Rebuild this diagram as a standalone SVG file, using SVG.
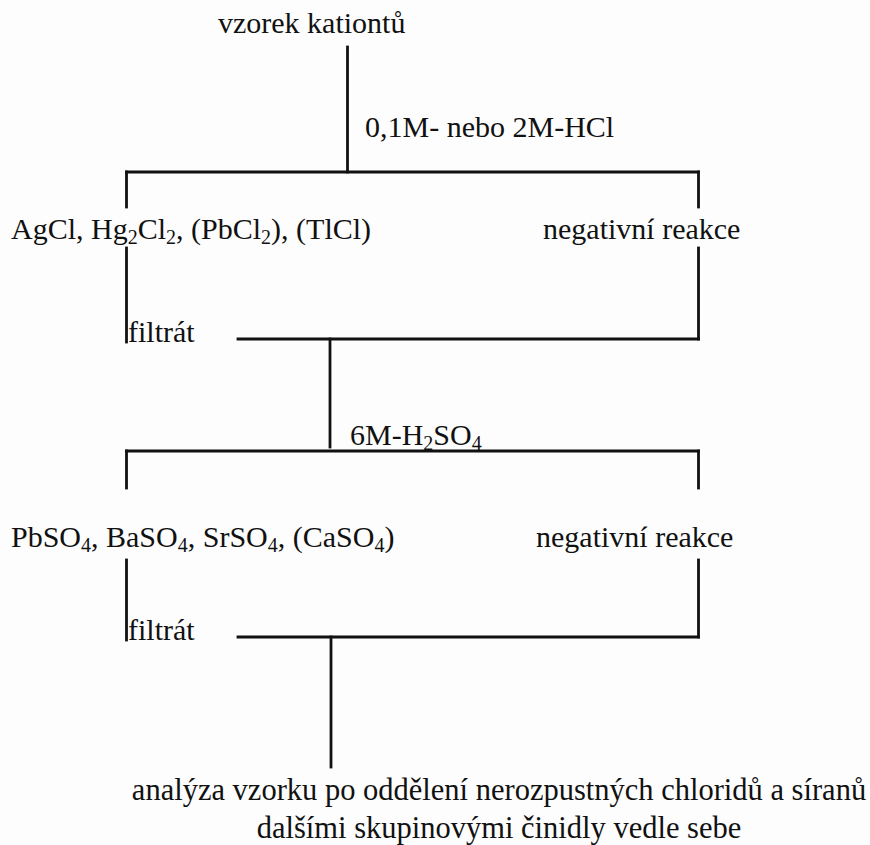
<svg xmlns="http://www.w3.org/2000/svg" width="870" height="845" viewBox="0 0 870 845">
<style>
.t{font-family:"Liberation Serif","Times New Roman",serif;font-size:30px;fill:#111}
.s{font-size:20px}
.b{font-size:30.5px}
.c line{stroke:#111;stroke-width:2.8;stroke-linecap:square}
</style>
<rect width="870" height="845" fill="#fdfdfd"/>
<g class="c" id="connectors">
<line x1="347.5" y1="47" x2="347.5" y2="172"/>
<line x1="126.5" y1="172" x2="698.5" y2="172"/>
<line x1="126.5" y1="172" x2="126.5" y2="207"/>
<line x1="698.5" y1="172" x2="698.5" y2="207"/>
<line x1="126.5" y1="248" x2="126.5" y2="342"/>
<line x1="698.5" y1="248" x2="698.5" y2="339"/>
<line x1="238" y1="339" x2="698.5" y2="339"/>
<line x1="330" y1="339" x2="330" y2="447"/>
<line x1="126.5" y1="451" x2="698.5" y2="451"/>
<line x1="126.5" y1="451" x2="126.5" y2="488"/>
<line x1="698.5" y1="451" x2="698.5" y2="488"/>
<line x1="126.5" y1="560" x2="126.5" y2="640"/>
<line x1="698.5" y1="560" x2="698.5" y2="637"/>
<line x1="238" y1="637" x2="698.5" y2="637"/>
<line x1="331" y1="637" x2="331" y2="767"/>
</g>
<g id="start"><text class="t" x="218" y="33">vzorek kationtů</text></g>
<g id="reagent1"><text class="t" x="365" y="137">0,1M- nebo 2M-HCl</text></g>
<g id="precip1"><text class="t" x="11" y="239">AgCl, Hg<tspan class="s" dy="5">2</tspan><tspan dy="-5">Cl</tspan><tspan class="s" dy="5">2</tspan><tspan dy="-5">, (PbCl</tspan><tspan class="s" dy="5">2</tspan><tspan dy="-5">), (TlCl)</tspan></text></g>
<g id="neg1"><text class="t" x="543" y="239">negativní reakce</text></g>
<g id="filtrate1"><text class="t" x="128" y="342">filtrát</text></g>
<g id="reagent2"><text class="t" x="350" y="445">6M-H<tspan class="s" dy="5">2</tspan><tspan dy="-5">SO</tspan><tspan class="s" dy="5">4</tspan></text></g>
<g id="precip2"><text class="t" x="11" y="547">PbSO<tspan class="s" dy="5">4</tspan><tspan dy="-5">, BaSO</tspan><tspan class="s" dy="5">4</tspan><tspan dy="-5">, SrSO</tspan><tspan class="s" dy="5">4</tspan><tspan dy="-5">, (CaSO</tspan><tspan class="s" dy="5">4</tspan><tspan dy="-5">)</tspan></text></g>
<g id="neg2"><text class="t" x="536" y="547">negativní reakce</text></g>
<g id="filtrate2"><text class="t" x="128" y="640">filtrát</text></g>
<g id="result"><text class="t b" x="499" y="800" text-anchor="middle">analýza vzorku po oddělení nerozpustných chloridů a síranů</text><text class="t b" x="499" y="838" text-anchor="middle">dalšími skupinovými činidly vedle sebe</text></g>
</svg>
